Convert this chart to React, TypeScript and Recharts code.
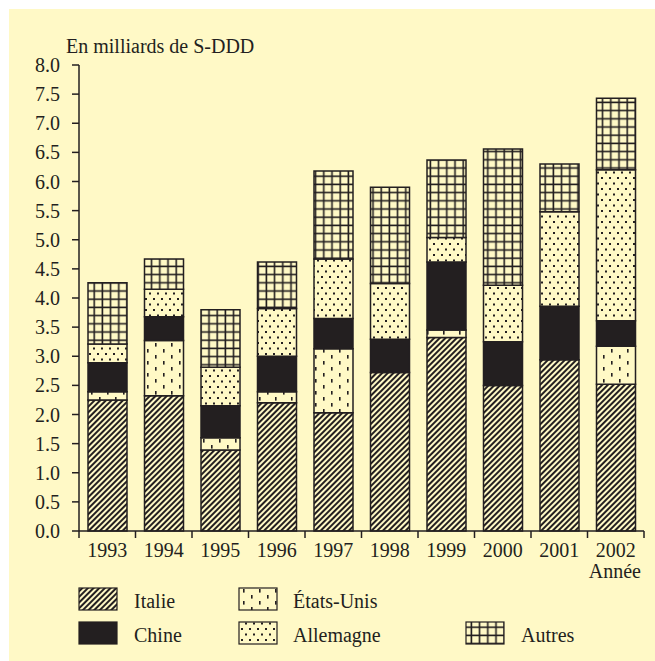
import React from 'react';
import { BarChart, Bar, XAxis, YAxis } from 'recharts';

const years = ['1993', '1994', '1995', '1996', '1997', '1998', '1999', '2000', '2001', '2002'];
const italie = [2.25, 2.32, 1.39, 2.2, 2.03, 2.72, 3.32, 2.5, 2.94, 2.52];
const etatsUnis = [0.14, 0.95, 0.21, 0.19, 1.1, 0, 0.13, 0, 0, 0.65];
const chine = [0.5, 0.41, 0.55, 0.61, 0.52, 0.57, 1.17, 0.75, 0.92, 0.44];
const allemagne = [0.32, 0.47, 0.66, 0.82, 1.02, 0.96, 0.42, 0.97, 1.62, 2.59];
const autres = [1.05, 0.52, 0.99, 0.8, 1.51, 1.65, 1.33, 2.34, 0.82, 1.23];
const yTicks = [0, 0.5, 1, 1.5, 2, 2.5, 3, 3.5, 4, 4.5, 5, 5.5, 6, 6.5, 7, 7.5, 8];

const seriesNames = ['Italie', 'États-Unis', 'Chine', 'Allemagne', 'Autres'];

const data = years.map((year, i) => ({
  year,
  italie: italie[i],
  etatsUnis: etatsUnis[i],
  chine: chine[i],
  allemagne: allemagne[i],
  autres: autres[i],
}));

const INK = '#231F20';
const BG = '#FFF9C6';
const FONT = '"Liberation Serif", "Times New Roman", serif';

const CHART_W = 655;
const CHART_H = 661;
const MARGIN = { top: 65, right: 11, bottom: 100, left: 0 };
const Y_AXIS_W = 79;
const PLOT_W = CHART_W - MARGIN.left - MARGIN.right - Y_AXIS_W;
const BAND = PLOT_W / years.length;

function XTick(props: any) {
  const { x, y, payload, index } = props;
  const half = BAND / 2;
  return (
    <g>
      <line x1={x - half} x2={x - half} y1={y} y2={y + 7} stroke={INK} strokeWidth={1.5} />
      {index === years.length - 1 && (
        <line x1={x + half} x2={x + half} y1={y} y2={y + 7} stroke={INK} strokeWidth={1.5} />
      )}
      <text
        x={x}
        y={y + 12}
        dy="0.71em"
        textAnchor="middle"
        fill={INK}
        fontSize={20}
        fontFamily={FONT}
      >
        {payload.value}
      </text>
    </g>
  );
}

function Patterns() {
  return (
    <defs>
      <pattern id="pItalie" patternUnits="userSpaceOnUse" width="4" height="4" patternTransform="rotate(45)">
        <rect width="4" height="4" fill={BG} />
        <line x1="2" y1="-1" x2="2" y2="5" stroke={INK} strokeWidth="2" />
      </pattern>
      <pattern id="pEU" patternUnits="userSpaceOnUse" width="16" height="12">
        <rect width="16" height="12" fill={BG} />
        <rect x="3" y="1" width="1.6" height="3.6" fill={INK} />
        <rect x="11" y="7" width="1.6" height="3.6" fill={INK} />
      </pattern>
      <pattern id="pAllemagne" patternUnits="userSpaceOnUse" width="8" height="11">
        <rect width="8" height="11" fill={BG} />
        <rect x="1" y="1" width="2" height="2" fill={INK} />
        <rect x="5" y="6.5" width="2" height="2" fill={INK} />
      </pattern>
      <pattern id="pAutres" patternUnits="userSpaceOnUse" width="8.2" height="8.2">
        <rect width="8.2" height="8.2" fill={BG} />
        <line x1="4" y1="0" x2="4" y2="8.2" stroke={INK} strokeWidth="1.6" />
        <line x1="0" y1="4" x2="8.2" y2="4" stroke={INK} strokeWidth="1.6" />
      </pattern>
    </defs>
  );
}

const fills = ['url(#pItalie)', 'url(#pEU)', INK, 'url(#pAllemagne)', 'url(#pAutres)'];

const legendItems = [
  { name: seriesNames[0], fill: fills[0], sx: 79, tx: 134, row: 0 },
  { name: seriesNames[1], fill: fills[1], sx: 239, tx: 293, row: 0 },
  { name: seriesNames[2], fill: fills[2], sx: 79, tx: 134, row: 1 },
  { name: seriesNames[3], fill: fills[3], sx: 239, tx: 293, row: 1 },
  { name: seriesNames[4], fill: fills[4], sx: 466, tx: 521, row: 1 },
];

export default function App() {
  const keys = ['italie', 'etatsUnis', 'chine', 'allemagne', 'autres'];
  return (
    <div style={{ position: 'fixed', left: 0, top: 0, width: CHART_W, height: CHART_H, overflow: 'hidden', background: '#ffffff' }}>
      <div style={{ position: 'absolute', left: 9, top: 9, right: 0, bottom: 0, background: BG }} />
      <svg width={0} height={0} style={{ position: 'absolute' }}>
        <Patterns />
      </svg>
      <div style={{ position: 'absolute', left: 0, top: 0 }}>
        <BarChart width={CHART_W} height={CHART_H} data={data} margin={MARGIN} barSize={39}>
          <YAxis
            width={Y_AXIS_W}
            domain={[0, 8]}
            ticks={yTicks}
            interval={0}
            tickFormatter={(v: number) => v.toFixed(1)}
            tickSize={7}
            tickMargin={12}
            axisLine={{ stroke: INK, strokeWidth: 1.5 }}
            tickLine={{ stroke: INK, strokeWidth: 1.5 }}
            tick={{ fill: INK, fontSize: 20, fontFamily: FONT }}
          />
          <XAxis
            dataKey="year"
            height={30}
            interval={0}
            tickSize={0}
            tickMargin={0}
            tickLine={false}
            axisLine={{ stroke: INK, strokeWidth: 1.5 }}
            tick={<XTick />}
          />
          {keys.map((k, i) => (
            <Bar
              key={k}
              dataKey={k}
              name={seriesNames[i]}
              stackId="a"
              fill={fills[i]}
              stroke={INK}
              strokeWidth={1.5}
              isAnimationActive={false}
            />
          ))}
        </BarChart>
      </div>
      <svg width={CHART_W} height={CHART_H} style={{ position: 'absolute', left: 0, top: 0, pointerEvents: 'none' }}>
        <text x={66} y={53} fontSize={20} fontFamily={FONT} fill={INK}>
          En milliards de S-DDD
        </text>
        <text x={641} y={578} fontSize={20} fontFamily={FONT} fill={INK} textAnchor="end">
          Année
        </text>
        {legendItems.map((it) => {
          const top = it.row === 0 ? 588 : 622;
          return (
            <g key={it.name}>
              <rect x={it.sx} y={top} width={38} height={22} fill={it.fill} stroke={INK} strokeWidth={1.2} />
              <text x={it.tx} y={top + 20} fontSize={20} fontFamily={FONT} fill={INK}>
                {it.name}
              </text>
            </g>
          );
        })}
      </svg>
    </div>
  );
}
